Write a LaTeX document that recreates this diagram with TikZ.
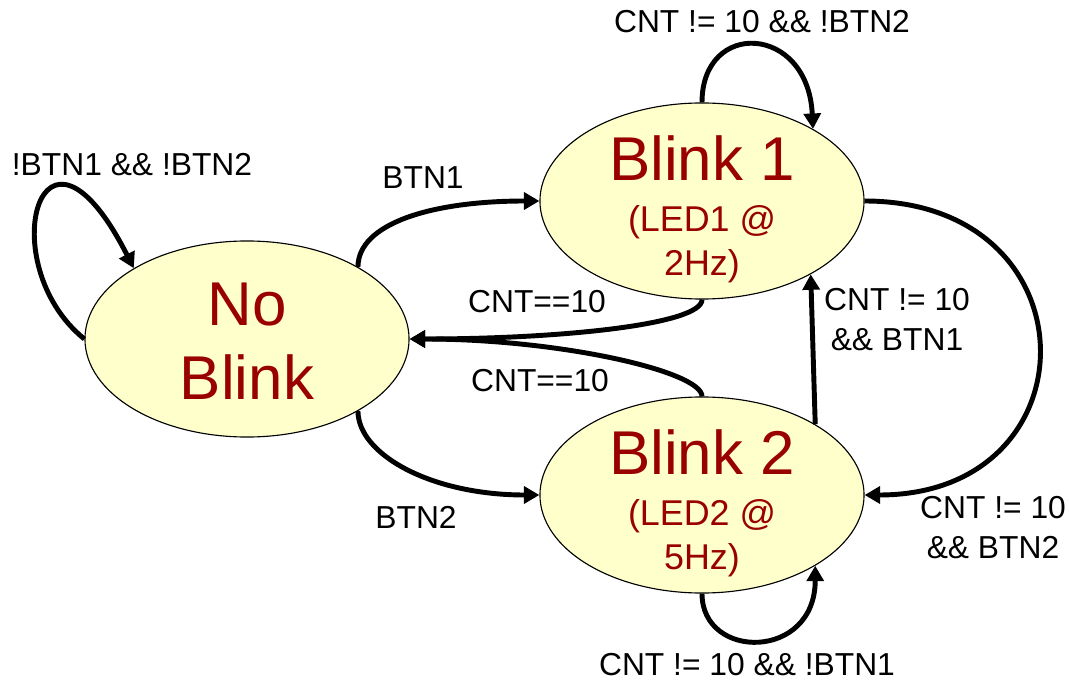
\documentclass[tikz,border=0pt]{standalone}
\usepackage{fontspec}
\setmainfont{Liberation Sans}
\usetikzlibrary{positioning}
\usetikzlibrary{shapes.geometric}
\usetikzlibrary{arrows.meta}
\definecolor{statered}{HTML}{990000}
\definecolor{statefill}{HTML}{FFFFCC}

\begin{document}
\begin{tikzpicture}[x=0.025cm,y=0.025cm,
        state/.style={ellipse,draw=black,line width=0.8pt,fill=statefill,minimum width=8.1cm,minimum height=4.9cm,inner xsep=0pt,inner ysep=-15pt,align=center,text=statered},
        arr/.style={line width=3.5pt,-{Triangle[length=11pt,width=12pt]}},
        lbl/.style={align=center,inner sep=0pt,font=\fontsize{22.6}{28.5}\selectfont}
        ]
        \useasboundingbox (0,0) rectangle (1069,685);
        \node (nb) [state,font=\fontsize{44}{53.3}\selectfont] at (247,346) {\rule{0pt}{33.4pt}No\\Blink};
        \node (b1) [state,font=\fontsize{25.5}{31}\selectfont] at (702,484) {{\fontsize{44}{53}\selectfont\rule{0pt}{46.4pt}Blink 1}\\[5pt](LED1 @\\2Hz)\rule[-8pt]{0pt}{8pt}};
        \node (b2) [state,font=\fontsize{25.5}{31}\selectfont] at (702,190) {{\fontsize{44}{53}\selectfont\rule{0pt}{46.4pt}Blink 2}\\[5pt](LED2 @\\5Hz)\rule[-8pt]{0pt}{8pt}};
        % transitions
        \draw[arr] (nb.west) .. controls +(-93,75) and +(-93,183) .. (nb.148);
        \draw[arr] (nb.33) .. controls +(0,43) and +(-109,0) .. (b1.west);
        \draw[arr] (nb.-33) .. controls +(0,-43) and +(-109,0) .. (b2.west);
        \draw[arr] (b1.south) .. controls +(0,-25) and +(150,0) .. (nb.east);
        \draw[arr] (b2.north) .. controls +(0,25) and +(150,0) .. (nb.east);
        \draw[arr] (b1.north) .. controls +(0,83) and +(-5,105) .. (b1.33);
        \draw[arr] (b2.south) .. controls +(0,-67) and +(0,-95) .. (b2.-32);
        \draw[arr] (b1.east) .. controls +(232,0) and +(232,0) .. (b2.east);
        \draw[arr] (b2.32) -- (b1.-34);
        % labels
        \node (l1) [lbl] at (132,520) {!BTN1 \&\& !BTN2};
        \node (l2) [lbl] at (423,507) {BTN1};
        \node (l3) [lbl] at (537,383) {CNT==10};
        \node (l4) [lbl] at (540,304) {CNT==10};
        \node (l5) [lbl] at (416,168) {BTN2};
        \node (l6) [lbl] at (762,663) {CNT != 10 \&\& !BTN2};
        \node (l7) [lbl] at (993,157) {CNT != 10\\\&\& BTN2};
        \node (l8) [lbl] at (897,365) {CNT != 10\\\&\& BTN1};
        \node (l9) [lbl] at (747,20) {CNT != 10 \&\& !BTN1};
\end{tikzpicture}
\end{document}
